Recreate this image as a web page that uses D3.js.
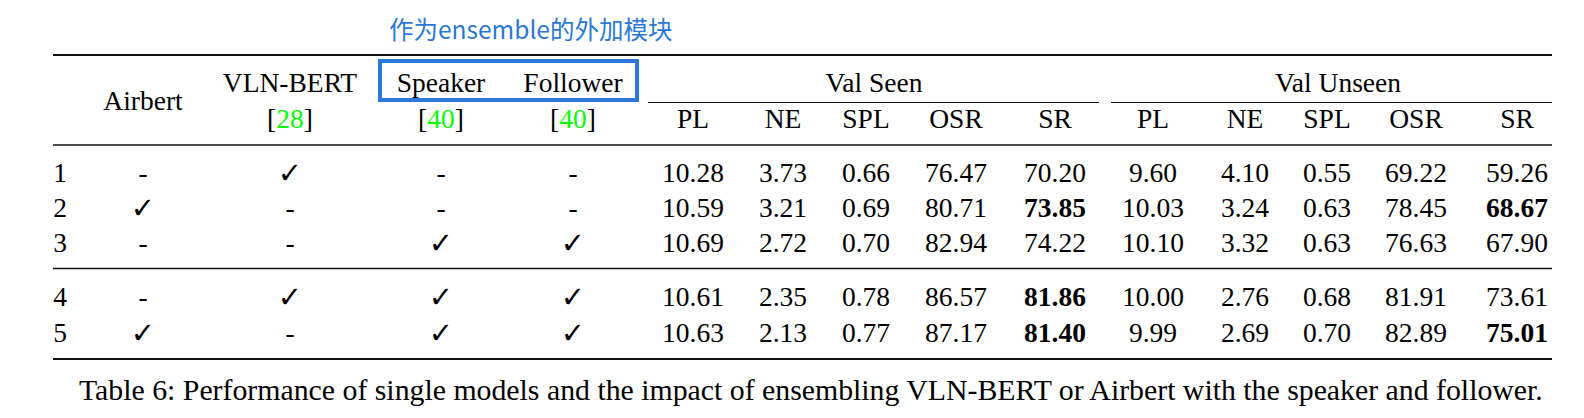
<!DOCTYPE html>
<html>
<head>
<meta charset="utf-8">
<script src="https://cdn.jsdelivr.net/npm/d3@7/dist/d3.min.js"></script>
<style>
  html, body { margin: 0; padding: 0; background: #fff; }
  svg { display: block; }
</style>
</head>
<body>
<svg id="chart" width="1584" height="418"></svg>
<script>
// ---------- DATA ----------
const annotation = "作为ensemble的外加模块";
const methodNames = ["Airbert", "VLN-BERT", "Speaker", "Follower"];
const methodRefs = [null, "28", "40", "40"];
const rowIds = ["1", "2", "3", "4", "5"];
const useAirbert  = [false, true,  false, false, true ];
const useVlnBert  = [true,  false, false, true,  false];
const useSpeaker  = [false, false, true,  true,  true ];
const useFollower = [false, false, true,  true,  true ];
const groups = ["Val Seen", "Val Unseen"];
const metrics = ["PL", "NE", "SPL", "OSR", "SR"];
const valSeen = [
  ["10.28", "3.73", "0.66", "76.47", "70.20"],
  ["10.59", "3.21", "0.69", "80.71", "73.85"],
  ["10.69", "2.72", "0.70", "82.94", "74.22"],
  ["10.61", "2.35", "0.78", "86.57", "81.86"],
  ["10.63", "2.13", "0.77", "87.17", "81.40"]
];
const valUnseen = [
  ["9.60",  "4.10", "0.55", "69.22", "59.26"],
  ["10.03", "3.24", "0.63", "78.45", "68.67"],
  ["10.10", "3.32", "0.63", "76.63", "67.90"],
  ["10.00", "2.76", "0.68", "81.91", "73.61"],
  ["9.99",  "2.69", "0.70", "82.89", "75.01"]
];
const boldSeen = [
  [0,0,0,0,0],[0,0,0,0,1],[0,0,0,0,0],[0,0,0,0,1],[0,0,0,0,1]
];
const boldUnseen = [
  [0,0,0,0,0],[0,0,0,0,1],[0,0,0,0,0],[0,0,0,0,0],[0,0,0,0,1]
];
const caption = "Table 6: Performance of single models and the impact of ensembling VLN-BERT or Airbert with the speaker and follower.";

// ---------- LAYOUT ----------
const serif = "'Liberation Serif', 'Times New Roman', serif";
const fs = 27.5;
const colCenters = [60, 143, 290, 441, 573, 693, 783, 866, 956, 1055, 1153, 1245, 1327, 1416, 1517];
const colKeys = d3.range(colCenters.length);
const x = d3.scaleOrdinal().domain(colKeys).range(colCenters);
const rowBaselines = [182, 217, 252, 306, 342];
const y = d3.scaleOrdinal().domain(d3.range(rowIds.length)).range(rowBaselines);
const tableLeft = 53, tableRight = 1552;
const blue = "#2b78d9";

const svg = d3.select("#chart");
svg.append("rect").attr("width", 1584).attr("height", 418).attr("fill", "#fff");

// Rules
const rules = [
  {y: 55, w: 2.2}, {y: 145, w: 1.4}, {y: 268.5, w: 1.4}, {y: 359, w: 2.2}
];
svg.selectAll("line.rule").data(rules).join("line")
  .attr("class", "rule")
  .attr("x1", tableLeft).attr("x2", tableRight)
  .attr("y1", d => d.y).attr("y2", d => d.y)
  .attr("stroke", "#111").attr("stroke-width", d => d.w);

// cmidrules under groups
const cmid = [{x1: 648, x2: 1099}, {x1: 1111, x2: tableRight}];
svg.selectAll("line.cmid").data(cmid).join("line")
  .attr("class", "cmid")
  .attr("x1", d => d.x1).attr("x2", d => d.x2)
  .attr("y1", 102.5).attr("y2", 102.5)
  .attr("stroke", "#111").attr("stroke-width", 1.2);

// Annotation box and text
svg.append("rect")
  .attr("x", 380).attr("y", 61).attr("width", 257).attr("height", 39)
  .attr("fill", "none").attr("stroke", blue).attr("stroke-width", 4);
svg.append("text")
  .attr("x", 389).attr("y", 39)
  .attr("font-family", "'Noto Sans CJK SC', sans-serif")
  .attr("font-size", 24.5)
  .attr("fill", blue)
  .text(annotation);

// Method headers
const textBase = sel => sel.attr("font-family", serif).attr("font-size", fs).attr("fill", "#000").attr("text-anchor", "middle");

methodNames.forEach((name, i) => {
  svg.append("text").call(textBase)
    .attr("x", x(i + 1))
    .attr("y", methodRefs[i] ? 92 : 110)
    .text(name);
  if (methodRefs[i]) {
    const r = svg.append("text").call(textBase)
      .attr("x", x(i + 1)).attr("y", 128);
    r.append("tspan").text("[");
    r.append("tspan").attr("fill", "#00ff00").text(methodRefs[i]);
    r.append("tspan").text("]");
  }
});

// Group headers
groups.forEach((g, gi) => {
  const c0 = 5 + gi * 5;
  svg.append("text").call(textBase)
    .attr("x", (x(c0) + x(c0 + 4)) / 2 + (gi === 0 ? 0 : 3))
    .attr("y", 92)
    .text(g);
  metrics.forEach((m, mi) => {
    svg.append("text").call(textBase)
      .attr("x", x(c0 + mi)).attr("y", 128)
      .text(m);
  });
});

// Body rows
const flags = [useAirbert, useVlnBert, useSpeaker, useFollower];
rowIds.forEach((id, ri) => {
  svg.append("text").call(textBase)
    .attr("x", x(0)).attr("y", y(ri)).text(id);
  flags.forEach((f, fi) => {
    if (f[ri]) {
      svg.append("text")
        .attr("x", x(fi + 1)).attr("y", y(ri) + 1)
        .attr("text-anchor", "middle")
        .attr("font-family", "'DejaVu Sans', sans-serif")
        .attr("font-size", 29)
        .attr("fill", "#000")
        .text("✓");
    } else {
      svg.append("text").call(textBase)
        .attr("x", x(fi + 1)).attr("y", y(ri)).text("-");
    }
  });
  [valSeen, valUnseen].forEach((vals, gi) => {
    const bold = gi === 0 ? boldSeen : boldUnseen;
    vals[ri].forEach((v, mi) => {
      svg.append("text").call(textBase)
        .attr("x", x(5 + gi * 5 + mi)).attr("y", y(ri))
        .attr("font-weight", bold[ri][mi] ? "bold" : "normal")
        .text(v);
    });
  });
});

// Caption
svg.append("text")
  .attr("x", 79).attr("y", 400)
  .attr("font-family", serif).attr("font-size", 29.8)
  .attr("fill", "#000")
  .text(caption);
</script>
</body>
</html>
